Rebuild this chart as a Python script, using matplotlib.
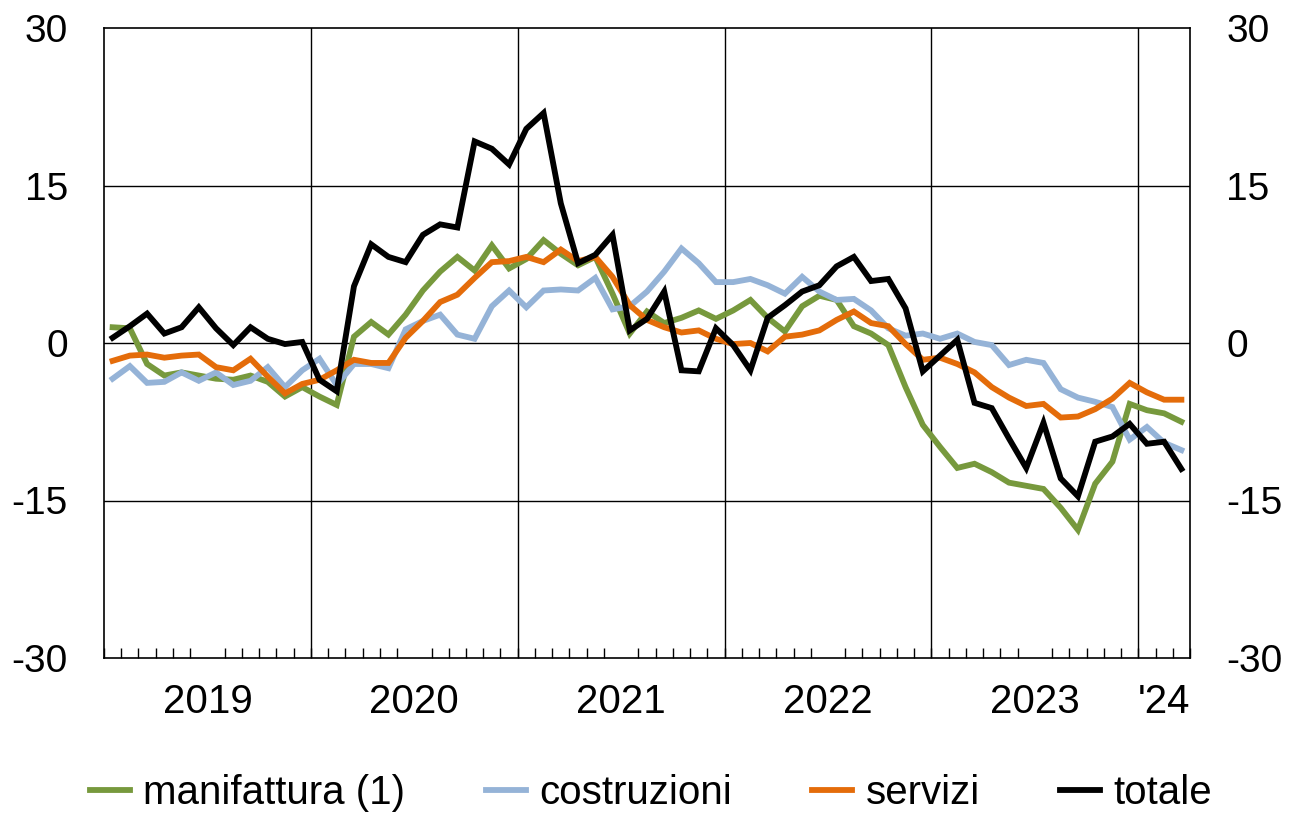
import matplotlib
matplotlib.use("Agg")
import matplotlib.pyplot as plt
import numpy as np
import pandas as pd

# ==============================================================
# Data (monthly, Jan 2019 - Mar 2024)
# ==============================================================

months = pd.period_range("2019-01", "2024-03", freq="M")

manifattura = [
    1.5, 1.4, -2.0, -3.1, -2.8, -3.1, -3.4, -3.5, -3.1, -3.7, -5.1, -4.2,
    -5.1, -5.9, 0.6, 2.0, 0.8, 2.7, 5.0, 6.8, 8.2, 6.9, 9.3, 7.1,
    8.0, 9.8, 8.5, 7.4, 8.2, 4.7, 0.9, 3.0, 1.9, 2.4, 3.1, 2.3,
    3.1, 4.1, 2.4, 1.1, 3.5, 4.5, 4.1, 1.6, 0.9, -0.2, -4.2, -7.8,
    -9.9, -11.9, -11.5, -12.3, -13.3, -13.6, -13.9, -15.7, -17.8, -13.4, -11.3, -5.8,
    -6.4, -6.7, -7.5,
]
costruzioni = [
    -3.4, -2.2, -3.8, -3.7, -2.8, -3.6, -2.8, -4.0, -3.6, -2.3, -4.2, -2.6,
    -1.5, -4.0, -2.0, -2.0, -2.4, 1.3, 2.1, 2.7, 0.8, 0.4, 3.5, 5.0,
    3.4, 5.0, 5.1, 5.0, 6.2, 3.2, 3.5, 4.9, 6.8, 9.0, 7.6, 5.8,
    5.8, 6.1, 5.5, 4.7, 6.3, 4.9, 4.1, 4.2, 3.1, 1.4, 0.7, 0.9,
    0.4, 0.9, 0.1, -0.2, -2.1, -1.6, -1.9, -4.4, -5.2, -5.6, -6.1, -9.2,
    -8.0, -9.5, -10.2,
]
servizi = [
    -1.7, -1.2, -1.1, -1.4, -1.2, -1.1, -2.3, -2.6, -1.5, -3.2, -4.8, -3.9,
    -3.5, -2.6, -1.6, -1.9, -1.9, 0.5, 2.1, 3.9, 4.6, 6.2, 7.7, 7.8,
    8.2, 7.7, 8.9, 7.8, 8.2, 6.3, 3.6, 2.2, 1.5, 1.0, 1.2, 0.4,
    -0.1, 0.0, -0.8, 0.6, 0.8, 1.2, 2.2, 3.0, 1.9, 1.6, -0.1, -1.6,
    -1.4, -2.0, -2.8, -4.2, -5.2, -6.0, -5.8, -7.1, -7.0, -6.3, -5.3, -3.8,
    -4.7, -5.4, -5.4,
]
totale = [
    0.5, 1.6, 2.8, 0.9, 1.5, 3.4, 1.4, -0.2, 1.5, 0.4, -0.1, 0.1,
    -3.5, -4.6, 5.4, 9.4, 8.2, 7.7, 10.3, 11.3, 11.0, 19.2, 18.5, 17.0,
    20.4, 21.9, 13.3, 7.6, 8.4, 10.3, 1.2, 2.3, 4.9, -2.6, -2.7, 1.4,
    -0.2, -2.6, 2.4, 3.6, 4.9, 5.5, 7.3, 8.2, 5.9, 6.1, 3.3, -2.7,
    -1.2, 0.3, -5.7, -6.2, -9.1, -11.9, -7.6, -12.9, -14.6, -9.4, -8.9, -7.7,
    -9.6, -9.4, -12.0,
]

year_labels = ["2019", "2020", "2021", "2022", "2023", "'24"]
y_ticks = [-30, -15, 0, 15, 30]

series = [
    ("manifattura (1)", manifattura, "#77993D"),
    ("costruzioni", costruzioni, "#95B3D7"),
    ("servizi", servizi, "#E46C0A"),
    ("totale", totale, "#000000"),
]

# ==============================================================
# Plot
# ==============================================================

plt.rcParams["font.family"] = ["Liberation Sans", "DejaVu Sans"]
plt.rcParams["font.size"] = 28

fig = plt.figure(figsize=(12.89, 8.16), dpi=100)
ax = fig.add_axes([104 / 1289, 1 - 658 / 816, (1190 - 104) / 1289, (658 - 28) / 816])

x = np.arange(len(months))
for label, values, color in series:
    ax.plot(x, values, color=color, linewidth=4.2, label=label,
            solid_joinstyle="miter", zorder=3)

ax.set_xlim(-0.5, len(months) - 0.5)
ax.set_ylim(-30, 30)

# year boundaries and horizontal grid
year_starts = [i for i, m in enumerate(months) if m.month == 1]
for i in year_starts[1:]:
    ax.axvline(i - 0.5, color="black", linewidth=1.0, zorder=1)
for v in y_ticks[1:-1]:
    ax.axhline(v, color="black", linewidth=1.0, zorder=1)

# month ticks on the bottom axis
ax.set_xticks(np.arange(len(months) + 1) - 0.5, minor=True)
ax.tick_params(axis="x", which="minor", direction="in", length=7, width=1.0,
               bottom=True, top=False)

# year labels centred on each year
year_ends = year_starts[1:] + [len(months)]
centers = [(s + e - 1) / 2 for s, e in zip(year_starts, year_ends)]
ax.set_xticks(centers)
ax.set_xticklabels(year_labels, fontsize=29)
ax.tick_params(axis="x", which="major", length=0, pad=18)

ax.set_yticks(y_ticks)
ax.set_yticklabels([str(v) for v in y_ticks])
ax.tick_params(axis="y", length=0, pad=26, labelleft=True, labelright=True)

for spine in ax.spines.values():
    spine.set_linewidth(1.2)
    spine.set_color("black")

fig.legend(loc="center", bbox_to_anchor=(651 / 1289, 1 - 793 / 816), ncol=4,
           frameon=False, handlelength=1.0, handletextpad=0.32,
           columnspacing=2.0, fontsize=29)

fig.savefig("out.png", dpi=100)
